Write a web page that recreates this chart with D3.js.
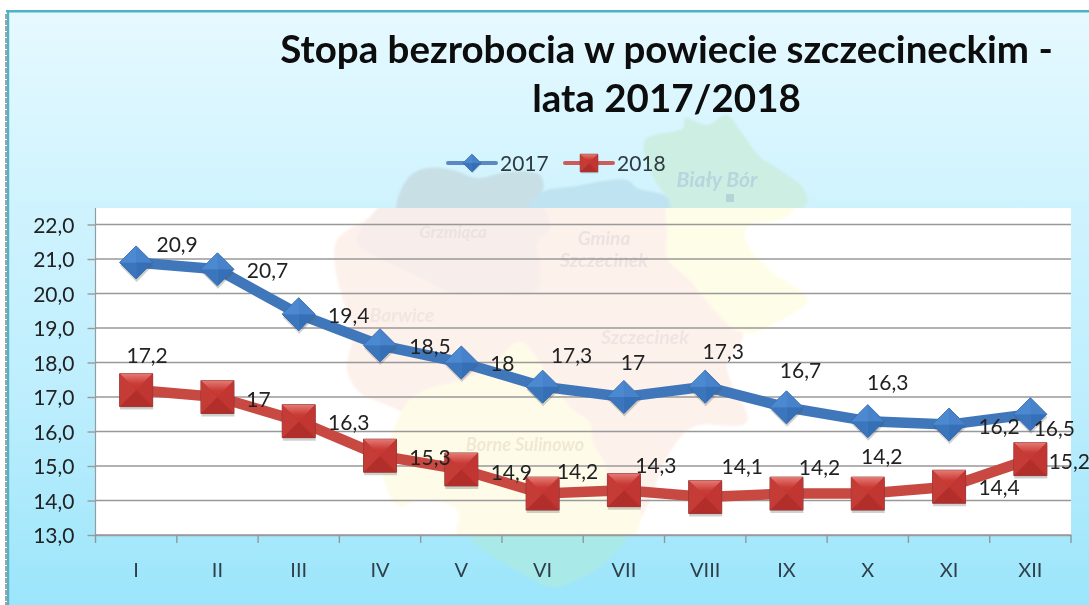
<!DOCTYPE html>
<html><head><meta charset="utf-8">
<script src="https://cdn.jsdelivr.net/npm/d3@7"></script>
<style>html,body{margin:0;padding:0;background:#fff;overflow:hidden}svg{display:block}text{font-family:Lato,sans-serif}</style>
</head><body><div id="chart"></div>
<script>
const months = ["I","II","III","IV","V","VI","VII","VIII","IX","X","XI","XII"];
const values2017 = [20.9,20.7,19.4,18.5,18,17.3,17,17.3,16.7,16.3,16.2,16.5];
const values2018 = [17.2,17,16.3,15.3,14.9,14.2,14.3,14.1,14.2,14.2,14.4,15.2];
const yTicks = [13,14,15,16,17,18,19,20,21,22];
const titleLines = ["Stopa bezrobocia w powiecie szczecineckim -","lata 2017/2018"];

// hand-placed data label offsets from their points
const labelDx2017 = [41,50,50,50,41,29,9,18,14,20,50,24];
const labelDy2017 = [-18,1,1,1,1,-31,-35,-35,-37,-39,2,14];
const labelDx2018 = [11,41,50,50,50,35,32,37,33,14,50,39];
const labelDy2018 = [-35,2,1,2,3,-22,-25,-31,-26,-37,1,2];

const W=1089,H=605;
const plotLeft=95.5,plotRight=1071,plotTop=208,plotBottom=535;
const svg=d3.select("#chart").append("svg").attr("width",W).attr("height",H);
const defs=svg.append("defs");
function vGrad(id,stops){
 const g=defs.append("linearGradient").attr("id",id).attr("x1",0).attr("x2",0).attr("y1",0).attr("y2",1);
 stops.forEach(s=>g.append("stop").attr("offset",s[0]).attr("stop-color",s[1]));
}
vGrad("bg",[[0,"#e6f9ff"],[0.33,"#cff3fe"],[0.65,"#bdeefd"],[1,"#9be5fb"]]);
vGrad("redTop",[[0,"#e67a74"],[0.6,"#c93c36"],[1,"#c53631"]]);
const blur=defs.append("filter").attr("id","soft").attr("x","-5%").attr("y","-5%").attr("width","110%").attr("height","110%");
blur.append("feGaussianBlur").attr("stdDeviation",0.45);
const blurMap=defs.append("filter").attr("id","softMap");
blurMap.append("feGaussianBlur").attr("stdDeviation",1);
defs.append("clipPath").attr("id","plotClip").append("rect").attr("x",plotLeft).attr("y",plotTop).attr("width",plotRight-plotLeft).attr("height",plotBottom-plotTop);

const root=svg.append("g").attr("filter","url(#soft)");
root.append("rect").attr("x",7).attr("y",10).attr("width",W-7).attr("height",H-10).attr("fill","url(#bg)");

// faded map: stronger on the blue background, pale tint inside the white plot
const mapLine=d3.line().curve(d3.curveCatmullRomClosed.alpha(0.5));
const outerShapes=[
 {fill:"#c8dfe6",pts:[[398,215],[408,178],[427,168],[453,170],[477,178],[507,172],[540,175],[543,190],[532,200],[530,215]]},
 {fill:"#c0e3f1",pts:[[530,215],[532,200],[547,190],[570,187],[627,180],[637,188],[667,197],[672,215]]},
 {fill:"#cdeee3",pts:[[645,140],[683,128],[685,118],[707,125],[727,115],[740,130],[760,157],[777,168],[803,188],[807,203],[787,217],[670,222],[670,203],[653,177]]},
 {fill:"#a9e9e8",pts:[[470,520],[627,520],[627,537],[600,567],[570,583],[552,587],[520,572],[493,557],[470,537]]}
];
const tintShapes=[
 {fill:"#fdf1ec",pts:[[337,240],[370,217],[398,195],[672,195],[670,233],[667,257],[690,280],[743,333],[727,367],[747,422],[693,427],[667,457],[647,507],[627,535],[570,500],[460,440],[387,405],[360,393],[347,370],[353,333],[343,300],[335,267]]},
 {fill:"#f7edeb",pts:[[398,195],[530,195],[550,227],[537,243],[540,267],[537,290],[487,293],[453,293],[420,277],[383,260],[357,243],[370,217]]},
 {fill:"#fefce9",pts:[[393,430],[413,397],[460,380],[487,370],[520,342],[545,370],[570,407],[590,423],[593,443],[603,460],[613,483],[640,507],[627,545],[458,545],[457,510],[420,500],[400,507],[383,477]]},
 {fill:"#fefde8",pts:[[670,195],[800,195],[787,217],[747,227],[747,243],[770,270],[808,300],[787,317],[743,333],[703,297],[690,280],[667,257],[667,233]]}
];
const outerG=root.append("g").attr("filter","url(#softMap)");
outerG.selectAll("path").data(outerShapes).join("path").attr("d",d=>mapLine(d.pts)).attr("fill",d=>d.fill);
root.append("text").text("Biały Bór").attr("x",717).attr("y",187).attr("text-anchor","middle").attr("fill","#b4d6de").style("font-size","21px").style("font-weight","700").style("font-style","italic");
root.append("rect").attr("x",726).attr("y",194).attr("width",8).attr("height",8).attr("fill","#b4d5d8");

// frame
root.append("rect").attr("x",6).attr("y",10).attr("width",W).attr("height",2.5).attr("fill","#4fb3c6");
root.append("rect").attr("x",7).attr("y",10).attr("width",2.2).attr("height",H).attr("fill","#4fb3c6");
root.append("line").attr("x1",6).attr("x2",6).attr("y1",14).attr("y2",H).attr("stroke","#3a4a50").attr("stroke-width",1).attr("stroke-dasharray","5 1");

// plot
const x=d3.scaleBand().domain(months).range([plotLeft,plotRight]);
const y=d3.scaleLinear().domain([13,22]).range([535,224.5]);
root.append("rect").attr("x",plotLeft).attr("y",plotTop).attr("width",plotRight-plotLeft).attr("height",plotBottom-plotTop).attr("fill","#fff");
const tintG=root.append("g").attr("clip-path","url(#plotClip)");
tintG.append("g").attr("filter","url(#softMap)").selectAll("path").data(tintShapes).join("path").attr("d",d=>mapLine(d.pts)).attr("fill",d=>d.fill);
const mapLabels=[["Gmina",604,245,19,"#ece2df"],["Szczecinek",604,267,19.5,"#ece2df"],["Grzmiąca",453,238,17,"#ece2df"],["Barwice",402,322,19,"#f3e6e0"],["Szczecinek",645,344,19.5,"#efe4e1"],["Borne Sulinowo",525,451,18,"#efe8d2"]];
tintG.selectAll("text").data(mapLabels).join("text").text(d=>d[0]).attr("x",d=>d[1]).attr("y",d=>d[2]).attr("text-anchor","middle").attr("fill",d=>d[4]).style("font-size",d=>d[3]+"px").style("font-weight","700").style("font-style","italic");

const fmt=d=>d3.format(".1f")(d).replace(".",",");
const ya=root.append("g").attr("transform",`translate(${plotLeft},0)`).call(d3.axisLeft(y).tickValues(yTicks).tickFormat(fmt).tickSize(8).tickPadding(13));
ya.select(".domain").attr("d",`M0,${plotTop}V${plotBottom}`).attr("stroke","#8f9ea3").attr("stroke-width",1.2);
ya.selectAll(".tick line").attr("stroke","#9a9a9a").attr("stroke-width",1.4);
ya.selectAll(".tick text").attr("fill","#222").style("font-size","21px").attr("dy","0.36em");
root.append("g").selectAll("line").data(yTicks).join("line").attr("x1",plotLeft).attr("x2",plotRight).attr("y1",d=>y(d)).attr("y2",d=>y(d)).attr("stroke","#999").attr("stroke-width",1.4);

const xa=root.append("g").attr("transform",`translate(0,${plotBottom})`).call(d3.axisBottom(x).tickSize(0).tickPadding(35));
xa.select(".domain").attr("stroke","#9a9a9a").attr("stroke-width",1.6);
xa.selectAll(".tick text").attr("fill","#2f3f4a").style("font-size","20px").attr("dy","0.36em");
root.append("g").selectAll("line").data(months.concat(["end"])).join("line")
 .attr("x1",(d,i)=>plotLeft+i*x.step()).attr("x2",(d,i)=>plotLeft+i*x.step()).attr("y1",plotBottom).attr("y2",plotBottom+8).attr("stroke","#8c9aa0").attr("stroke-width",1.4);

// series
const series=[
 {name:"2017",vals:values2017,dx:labelDx2017,dy:labelDy2017,stroke:"#3f76ba",lgStroke:"#5d89c0",rot:45,half:16.5,facets:["#4682ca","#3670b6","#3b76bd","#4c89d0"],edge:"#2f5f9c"},
 {name:"2018",vals:values2018,dx:labelDx2018,dy:labelDy2018,stroke:"#c74a42",lgStroke:"#cc5c5a",rot:0,half:16.5,facets:["url(#redTop)","#c13531","#b22e2b","#c53a34"],edge:"#7d3835"}
];
const line=d3.line().x(d=>d[0]).y(d=>d[1]);
function marker(sel,s,scale){
 const h=s.half*scale;
 const r=s.rot?h*Math.SQRT1_2:h;
 const base=d3.symbol().type(d3.symbolSquare).size(4*r*r);
 sel.append("path").attr("d",base).attr("transform",`translate(0.5,${3*scale}) rotate(${s.rot})`).attr("fill","#555").attr("opacity",0.28);
 const corners=[[[-r,-r],[r,-r]],[[r,-r],[r,r]],[[r,r],[-r,r]],[[-r,r],[-r,-r]]];
 const inner=sel.append("g").attr("transform",`rotate(${s.rot})`);
 inner.append("path").attr("d",base).attr("fill",s.facets[3]).attr("stroke",s.edge).attr("stroke-width",0.9);
 inner.selectAll("path.f").data(corners).join("path").attr("class","f")
  .attr("d",c=>d3.line()([c[0],c[1],[0,0]])+"Z").attr("fill",(c,i)=>s.facets[i]);
}
series.forEach(s=>{
 const pts=s.vals.map((v,i)=>[x(months[i])+x.bandwidth()/2,y(v)]);
 root.append("path").attr("d",line(pts)).attr("fill","none").attr("stroke",s.stroke).attr("stroke-width",10.5).attr("stroke-linejoin","round");
 root.append("g").selectAll("g").data(pts).join("g").attr("transform",d=>`translate(${d[0]},${d[1]})`).each(function(){marker(d3.select(this),s,1);});
 root.append("g").selectAll("text").data(s.vals).join("text")
  .attr("x",(v,i)=>pts[i][0]+s.dx[i]).attr("y",(v,i)=>pts[i][1]+s.dy[i]).attr("dy","0.36em").attr("text-anchor","middle")
  .attr("fill","#222").style("font-size","21px").text(v=>String(v).replace(".",","));
});

// legend
const lg=[{s:series[0],x1:448,x2:496,tx:500},{s:series[1],x1:565,x2:613,tx:617}];
lg.forEach(l=>{
 const ly=163;
 root.append("line").attr("x1",l.x1).attr("x2",l.x2).attr("y1",ly).attr("y2",ly).attr("stroke",l.s.lgStroke).attr("stroke-width",4).attr("stroke-linecap","round");
 marker(root.append("g").attr("transform",`translate(${(l.x1+l.x2)/2},${ly})`),l.s,0.53);
 root.append("text").attr("x",l.tx).attr("y",ly).attr("dy","0.36em").attr("fill","#2f3a40").style("font-size","21px").text(l.s.name);
});

// title
root.append("g").selectAll("text").data(titleLines).join("text").attr("x",666.5).attr("y",(d,i)=>63+i*49)
 .attr("text-anchor","middle").attr("fill","#0b0b0b").style("font-size","38.5px").style("font-weight","700").text(d=>d);
</script></body></html>
